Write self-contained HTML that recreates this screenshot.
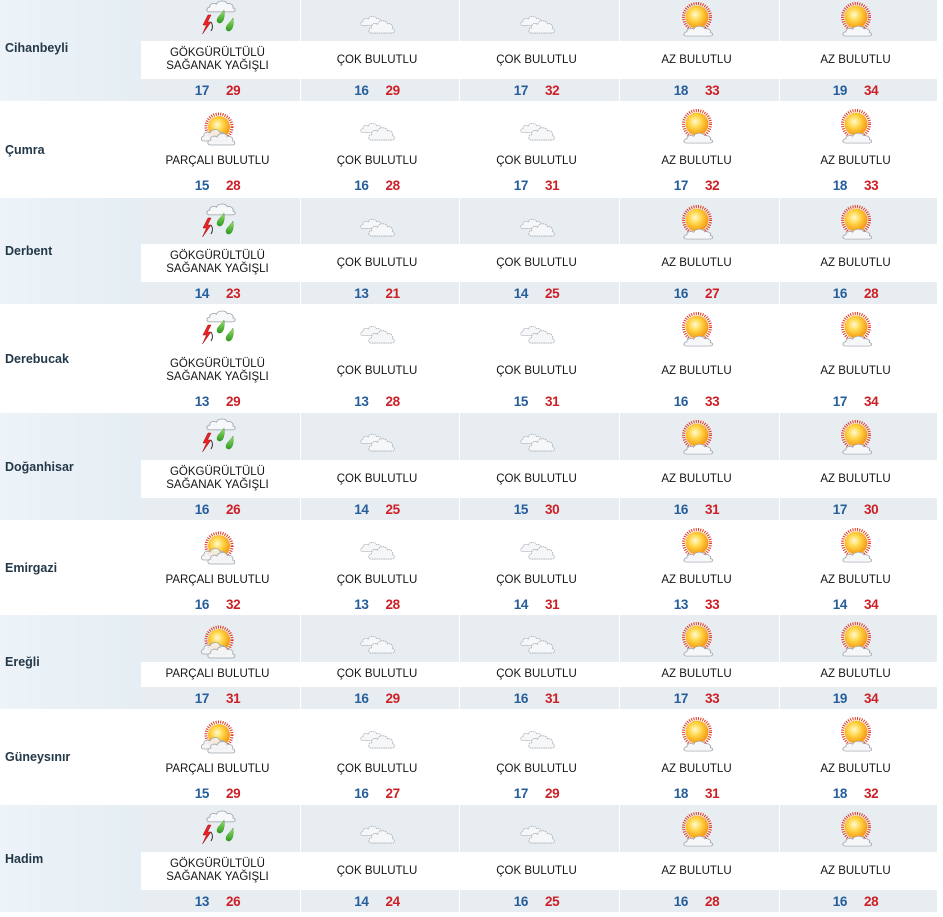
<!DOCTYPE html>
<html><head><meta charset="utf-8">
<style>
*{margin:0;padding:0;box-sizing:border-box}
html,body{width:943px;height:917px;overflow:hidden;background:#fff}
body{position:relative;font-family:"Liberation Sans",Arial,sans-serif}
.r{position:absolute;left:0;width:943px}
.lab{position:absolute;left:0;top:0;bottom:0;width:141px;display:flex;align-items:center;padding-left:5px;font-weight:bold;font-size:12.5px;color:#233848}
.s .lab{background:linear-gradient(90deg,#edf3f8,#e5eef4)}
.c{position:absolute;top:0;bottom:0;display:flex;flex-direction:column}
.w .c{padding-top:1px}
.k1{left:141px;width:159px}.k2{left:301px;width:158px}.k3{left:460px;width:159px}.k4{left:620px;width:159px}.k5{left:780px;width:157px}
.b1{position:relative;flex:none}
.b1 svg{position:absolute;top:2px;left:calc(50% - 23px);width:40px;height:44px;overflow:visible}
.b2{flex:none;display:flex;align-items:center;justify-content:center;padding-right:6px;font-size:11.5px;line-height:13px;color:#141414;text-align:center;background:#fff}
.b3{flex:none;display:flex;align-items:center;justify-content:center;padding-right:6px;gap:17px;font-weight:bold;font-size:13.5px;letter-spacing:-0.4px}
.s .b1,.s .b3{background:#e8edf2}
.lo{color:#265e9c}.hi{color:#cc1f26}
.h46 .b1{height:46px}.h47 .b1{height:47px}
.t38 .b2{height:38px}.t25 .b2{height:25px}
.b3{height:22px}
</style></head><body>
<svg width="0" height="0" style="position:absolute">
<defs>
<radialGradient id="sg" cx=".42" cy=".4" r=".62"><stop offset="0" stop-color="#fffbd2"/><stop offset=".45" stop-color="#ffd443"/><stop offset="1" stop-color="#f29411"/></radialGradient>
<linearGradient id="gg" x1="0" y1="0" x2="0" y2="1"><stop offset="0" stop-color="#9be36a"/><stop offset="1" stop-color="#2e9a1f"/></linearGradient>
<path id="cl" d="M3,13 C0,13 0,8.5 3.5,8 C3,4.5 7,3 9.5,5 C10.5,1 17.5,0 19.5,4.5 C22.5,3.5 25.5,6 24.5,9 C27.5,9.5 27,13 24,13 Z"/>
<symbol id="T" viewBox="0 0 40 44">
<use href="#cl" transform="translate(8,2.5) scale(1.1,0.95)" fill="#f7f8fa" stroke="#9aa0a6" stroke-width="0.8"/>
<polygon points="10,18 5,28 8.5,28 4.5,37 13,25 9.5,25 13,18" fill="#e8252a" stroke="#a80000" stroke-width="0.5"/>
<path d="M13,25 Q16,29.5 13,34" stroke="#333" stroke-width="1" fill="none"/>
<path d="M26,13 C24,17 19,19.5 19,23.5 C19,26 22,27 24,25 C26.5,22.5 26.5,17 26,13 Z" fill="url(#gg)" stroke="#2a8a1a" stroke-width="0.4"/>
<path transform="translate(9,8)" d="M26,13 C24,17 19,19.5 19,23.5 C19,26 22,27 24,25 C26.5,22.5 26.5,17 26,13 Z" fill="url(#gg)" stroke="#2a8a1a" stroke-width="0.4"/>
</symbol>
<symbol id="C" viewBox="0 0 40 44">
<use href="#cl" transform="translate(3,18) scale(0.85,0.8)" fill="#f6f7f9" stroke="#a4aab0" stroke-width="0.9" stroke-dasharray="1.6 0.7"/>
<use href="#cl" transform="translate(11,22) scale(1,1.08)" fill="#f6f7f9" stroke="#a4aab0" stroke-width="0.8" stroke-dasharray="1.6 0.7"/>
</symbol>
<symbol id="P" viewBox="0 0 40 44">
<circle cx="21" cy="23" r="13" fill="none" stroke="#e0351f" stroke-width="3" stroke-dasharray="1 1.3"/>
<circle cx="21" cy="23" r="11" fill="url(#sg)"/>
<use href="#cl" transform="translate(2.5,24)" fill="#f4f5f7" fill-opacity="0.85" stroke="#a0a6ac" stroke-width="0.8"/>
<use href="#cl" transform="translate(9,28) scale(1.05,1)" fill="#f4f5f7" fill-opacity="0.9" stroke="#a0a6ac" stroke-width="0.8"/>
</symbol>
<symbol id="A" viewBox="0 0 40 44">
<circle cx="20" cy="20" r="13.5" fill="none" stroke="#e0351f" stroke-width="3" stroke-dasharray="1 1.3"/>
<circle cx="20" cy="20" r="11.5" fill="url(#sg)"/>
<use href="#cl" transform="translate(6,28) scale(1.12,0.85)" fill="#f6f7f9" stroke="#9ea4aa" stroke-width="0.8"/>
</symbol>
</defs></svg>

<!-- Row 1 Cihanbeyli -->
<div class="r s h46 t38" style="top:-5px;height:106px">
<div class="lab">Cihanbeyli</div>
<div class="c k1"><div class="b1"><svg><use href="#T"/></svg></div><div class="b2">GÖKGÜRÜLTÜLÜ<br>SAĞANAK YAĞIŞLI</div><div class="b3"><b class="lo">17</b><b class="hi">29</b></div></div>
<div class="c k2"><div class="b1"><svg><use href="#C"/></svg></div><div class="b2">ÇOK BULUTLU</div><div class="b3"><b class="lo">16</b><b class="hi">29</b></div></div>
<div class="c k3"><div class="b1"><svg><use href="#C"/></svg></div><div class="b2">ÇOK BULUTLU</div><div class="b3"><b class="lo">17</b><b class="hi">32</b></div></div>
<div class="c k4"><div class="b1"><svg><use href="#A"/></svg></div><div class="b2">AZ BULUTLU</div><div class="b3"><b class="lo">18</b><b class="hi">33</b></div></div>
<div class="c k5"><div class="b1"><svg><use href="#A"/></svg></div><div class="b2">AZ BULUTLU</div><div class="b3"><b class="lo">19</b><b class="hi">34</b></div></div>
</div>

<!-- Row 2 Çumra -->
<div class="r w h47 t25" style="top:101px;height:97px">
<div class="lab">Çumra</div>
<div class="c k1"><div class="b1"><svg><use href="#P"/></svg></div><div class="b2">PARÇALI BULUTLU</div><div class="b3"><b class="lo">15</b><b class="hi">28</b></div></div>
<div class="c k2"><div class="b1"><svg><use href="#C"/></svg></div><div class="b2">ÇOK BULUTLU</div><div class="b3"><b class="lo">16</b><b class="hi">28</b></div></div>
<div class="c k3"><div class="b1"><svg><use href="#C"/></svg></div><div class="b2">ÇOK BULUTLU</div><div class="b3"><b class="lo">17</b><b class="hi">31</b></div></div>
<div class="c k4"><div class="b1"><svg><use href="#A"/></svg></div><div class="b2">AZ BULUTLU</div><div class="b3"><b class="lo">17</b><b class="hi">32</b></div></div>
<div class="c k5"><div class="b1"><svg><use href="#A"/></svg></div><div class="b2">AZ BULUTLU</div><div class="b3"><b class="lo">18</b><b class="hi">33</b></div></div>
</div>

<!-- Row 3 Derbent -->
<div class="r s h46 t38" style="top:198px;height:106px">
<div class="lab">Derbent</div>
<div class="c k1"><div class="b1"><svg><use href="#T"/></svg></div><div class="b2">GÖKGÜRÜLTÜLÜ<br>SAĞANAK YAĞIŞLI</div><div class="b3"><b class="lo">14</b><b class="hi">23</b></div></div>
<div class="c k2"><div class="b1"><svg><use href="#C"/></svg></div><div class="b2">ÇOK BULUTLU</div><div class="b3"><b class="lo">13</b><b class="hi">21</b></div></div>
<div class="c k3"><div class="b1"><svg><use href="#C"/></svg></div><div class="b2">ÇOK BULUTLU</div><div class="b3"><b class="lo">14</b><b class="hi">25</b></div></div>
<div class="c k4"><div class="b1"><svg><use href="#A"/></svg></div><div class="b2">AZ BULUTLU</div><div class="b3"><b class="lo">16</b><b class="hi">27</b></div></div>
<div class="c k5"><div class="b1"><svg><use href="#A"/></svg></div><div class="b2">AZ BULUTLU</div><div class="b3"><b class="lo">16</b><b class="hi">28</b></div></div>
</div>

<!-- Row 4 Derebucak -->
<div class="r w h47 t38" style="top:304px;height:109px">
<div class="lab">Derebucak</div>
<div class="c k1"><div class="b1"><svg><use href="#T"/></svg></div><div class="b2">GÖKGÜRÜLTÜLÜ<br>SAĞANAK YAĞIŞLI</div><div class="b3"><b class="lo">13</b><b class="hi">29</b></div></div>
<div class="c k2"><div class="b1"><svg><use href="#C"/></svg></div><div class="b2">ÇOK BULUTLU</div><div class="b3"><b class="lo">13</b><b class="hi">28</b></div></div>
<div class="c k3"><div class="b1"><svg><use href="#C"/></svg></div><div class="b2">ÇOK BULUTLU</div><div class="b3"><b class="lo">15</b><b class="hi">31</b></div></div>
<div class="c k4"><div class="b1"><svg><use href="#A"/></svg></div><div class="b2">AZ BULUTLU</div><div class="b3"><b class="lo">16</b><b class="hi">33</b></div></div>
<div class="c k5"><div class="b1"><svg><use href="#A"/></svg></div><div class="b2">AZ BULUTLU</div><div class="b3"><b class="lo">17</b><b class="hi">34</b></div></div>
</div>

<!-- Row 5 Doğanhisar -->
<div class="r s h47 t38" style="top:413px;height:107px">
<div class="lab">Doğanhisar</div>
<div class="c k1"><div class="b1"><svg><use href="#T"/></svg></div><div class="b2">GÖKGÜRÜLTÜLÜ<br>SAĞANAK YAĞIŞLI</div><div class="b3"><b class="lo">16</b><b class="hi">26</b></div></div>
<div class="c k2"><div class="b1"><svg><use href="#C"/></svg></div><div class="b2">ÇOK BULUTLU</div><div class="b3"><b class="lo">14</b><b class="hi">25</b></div></div>
<div class="c k3"><div class="b1"><svg><use href="#C"/></svg></div><div class="b2">ÇOK BULUTLU</div><div class="b3"><b class="lo">15</b><b class="hi">30</b></div></div>
<div class="c k4"><div class="b1"><svg><use href="#A"/></svg></div><div class="b2">AZ BULUTLU</div><div class="b3"><b class="lo">16</b><b class="hi">31</b></div></div>
<div class="c k5"><div class="b1"><svg><use href="#A"/></svg></div><div class="b2">AZ BULUTLU</div><div class="b3"><b class="lo">17</b><b class="hi">30</b></div></div>
</div>

<!-- Row 6 Emirgazi -->
<div class="r w h47 t25" style="top:520px;height:95px">
<div class="lab">Emirgazi</div>
<div class="c k1"><div class="b1"><svg><use href="#P"/></svg></div><div class="b2">PARÇALI BULUTLU</div><div class="b3"><b class="lo">16</b><b class="hi">32</b></div></div>
<div class="c k2"><div class="b1"><svg><use href="#C"/></svg></div><div class="b2">ÇOK BULUTLU</div><div class="b3"><b class="lo">13</b><b class="hi">28</b></div></div>
<div class="c k3"><div class="b1"><svg><use href="#C"/></svg></div><div class="b2">ÇOK BULUTLU</div><div class="b3"><b class="lo">14</b><b class="hi">31</b></div></div>
<div class="c k4"><div class="b1"><svg><use href="#A"/></svg></div><div class="b2">AZ BULUTLU</div><div class="b3"><b class="lo">13</b><b class="hi">33</b></div></div>
<div class="c k5"><div class="b1"><svg><use href="#A"/></svg></div><div class="b2">AZ BULUTLU</div><div class="b3"><b class="lo">14</b><b class="hi">34</b></div></div>
</div>

<!-- Row 7 Ereğli -->
<div class="r s h47 t25" style="top:615px;height:94px">
<div class="lab">Ereğli</div>
<div class="c k1"><div class="b1"><svg><use href="#P"/></svg></div><div class="b2">PARÇALI BULUTLU</div><div class="b3"><b class="lo">17</b><b class="hi">31</b></div></div>
<div class="c k2"><div class="b1"><svg><use href="#C"/></svg></div><div class="b2">ÇOK BULUTLU</div><div class="b3"><b class="lo">16</b><b class="hi">29</b></div></div>
<div class="c k3"><div class="b1"><svg><use href="#C"/></svg></div><div class="b2">ÇOK BULUTLU</div><div class="b3"><b class="lo">16</b><b class="hi">31</b></div></div>
<div class="c k4"><div class="b1"><svg><use href="#A"/></svg></div><div class="b2">AZ BULUTLU</div><div class="b3"><b class="lo">17</b><b class="hi">33</b></div></div>
<div class="c k5"><div class="b1"><svg><use href="#A"/></svg></div><div class="b2">AZ BULUTLU</div><div class="b3"><b class="lo">19</b><b class="hi">34</b></div></div>
</div>

<!-- Row 8 Güneysınır -->
<div class="r w h47 t25" style="top:709px;height:96px">
<div class="lab">Güneysınır</div>
<div class="c k1"><div class="b1"><svg><use href="#P"/></svg></div><div class="b2">PARÇALI BULUTLU</div><div class="b3"><b class="lo">15</b><b class="hi">29</b></div></div>
<div class="c k2"><div class="b1"><svg><use href="#C"/></svg></div><div class="b2">ÇOK BULUTLU</div><div class="b3"><b class="lo">16</b><b class="hi">27</b></div></div>
<div class="c k3"><div class="b1"><svg><use href="#C"/></svg></div><div class="b2">ÇOK BULUTLU</div><div class="b3"><b class="lo">17</b><b class="hi">29</b></div></div>
<div class="c k4"><div class="b1"><svg><use href="#A"/></svg></div><div class="b2">AZ BULUTLU</div><div class="b3"><b class="lo">18</b><b class="hi">31</b></div></div>
<div class="c k5"><div class="b1"><svg><use href="#A"/></svg></div><div class="b2">AZ BULUTLU</div><div class="b3"><b class="lo">18</b><b class="hi">32</b></div></div>
</div>

<!-- Row 9 Hadim -->
<div class="r s h47 t38" style="top:805px;height:107px">
<div class="lab">Hadim</div>
<div class="c k1"><div class="b1"><svg><use href="#T"/></svg></div><div class="b2">GÖKGÜRÜLTÜLÜ<br>SAĞANAK YAĞIŞLI</div><div class="b3"><b class="lo">13</b><b class="hi">26</b></div></div>
<div class="c k2"><div class="b1"><svg><use href="#C"/></svg></div><div class="b2">ÇOK BULUTLU</div><div class="b3"><b class="lo">14</b><b class="hi">24</b></div></div>
<div class="c k3"><div class="b1"><svg><use href="#C"/></svg></div><div class="b2">ÇOK BULUTLU</div><div class="b3"><b class="lo">16</b><b class="hi">25</b></div></div>
<div class="c k4"><div class="b1"><svg><use href="#A"/></svg></div><div class="b2">AZ BULUTLU</div><div class="b3"><b class="lo">16</b><b class="hi">28</b></div></div>
<div class="c k5"><div class="b1"><svg><use href="#A"/></svg></div><div class="b2">AZ BULUTLU</div><div class="b3"><b class="lo">16</b><b class="hi">28</b></div></div>
</div>

</body></html>
